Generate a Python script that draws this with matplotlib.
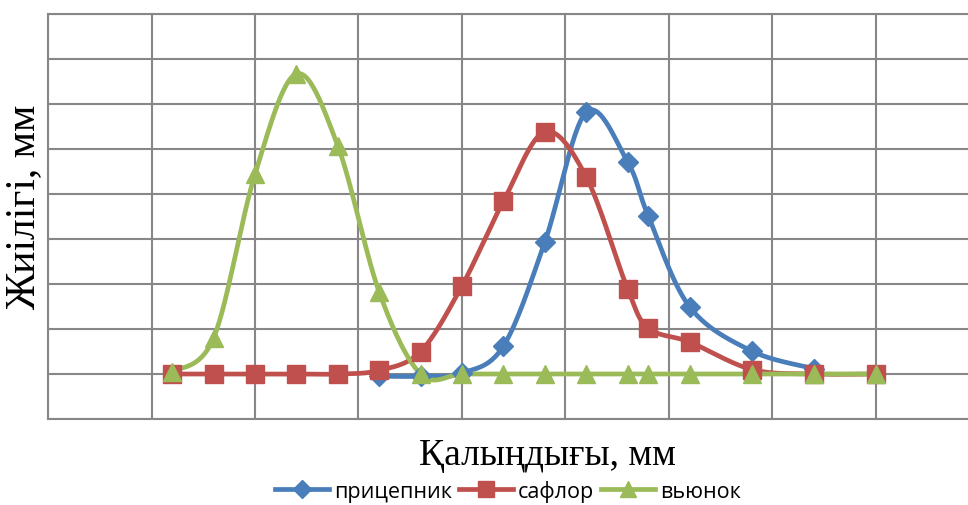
import matplotlib.pyplot as plt
import numpy as np
from matplotlib.lines import Line2D

# thickness positions (grid units, no tick labels in the original)
x_all = [1.2, 1.6, 2.0, 2.4, 2.8, 3.2, 3.6, 4.0, 4.4, 4.8, 5.2, 5.6, 5.8, 6.2, 6.8, 7.4, 8.0]

x_pricep = [3.2, 3.6, 4.0, 4.4, 4.8, 5.2, 5.6, 5.8, 6.2, 6.8, 7.4]
y_pricep = [-0.05, -0.05, 0.02, 0.62, 2.93, 5.82, 4.71, 3.51, 1.49, 0.51, 0.12]

y_saflor = [0, 0, 0, 0, 0, 0.08, 0.5, 1.96, 3.84, 5.38, 4.38, 1.89, 1.02, 0.71, 0.1, 0, 0]

y_vyunok = [0.05, 0.8, 4.44, 6.67, 5.07, 1.82, 0, 0, 0, 0, 0, 0, 0, 0, 0, 0, 0]

names = ["прицепник", "сафлор", "вьюнок"]
colors = ["#4A7EBB", "#C0504D", "#9BBB59"]
markers = ["D", "s", "^"]
msizes = [10, 12.5, 13]


def smooth(xs, ys, n=30):
    # catmull-rom style bezier, similar to the office "smoothed line"
    xs = np.asarray(xs, float)
    ys = np.asarray(ys, float)
    px = np.concatenate([[xs[0]], xs, [xs[-1]]])
    py = np.concatenate([[ys[0]], ys, [ys[-1]]])
    outx, outy = [], []
    t = np.linspace(0, 1, n)
    for i in range(1, len(px) - 2):
        p0 = np.array([px[i], py[i]])
        p3 = np.array([px[i + 1], py[i + 1]])
        c1 = p0 + (np.array([px[i + 1], py[i + 1]]) - np.array([px[i - 1], py[i - 1]])) / 6
        c2 = p3 - (np.array([px[i + 2], py[i + 2]]) - np.array([px[i], py[i]])) / 6
        b = ((1 - t) ** 3)[:, None] * p0 + (3 * (1 - t) ** 2 * t)[:, None] * c1 \
            + (3 * (1 - t) * t ** 2)[:, None] * c2 + (t ** 3)[:, None] * p3
        outx.extend(b[:, 0])
        outy.extend(b[:, 1])
    return outx, outy


fig = plt.figure(figsize=(9.68, 5.06), dpi=100)
ax = fig.add_axes([48 / 968, 86 / 506, 920 / 968, 405 / 506])

series = [(x_pricep, y_pricep), (x_all, y_saflor), (x_all, y_vyunok)]
for (xs, ys), c, m, ms in zip(series, colors, markers, msizes):
    sx, sy = smooth(xs, ys)
    ax.plot(sx, sy, color=c, lw=3.4, solid_capstyle='round', zorder=3)
    ax.plot(xs, ys, ls='none', marker=m, ms=ms, color=c, zorder=4)

ax.set_xlim(0, 920 / 103.5)
ax.set_ylim(-1, 8)
ax.set_xticks(range(0, 9))
ax.set_yticks(range(-1, 9))
ax.set_xticklabels([])
ax.set_yticklabels([])
ax.tick_params(length=0)
ax.grid(True, color="#878787", lw=1.5)
ax.set_axisbelow(True)
for s in ["left", "bottom", "top"]:
    ax.spines[s].set_color("#878787")
    ax.spines[s].set_linewidth(1.5)
ax.spines["right"].set_visible(False)

fig.text(24 / 968, 1 - 207 / 506, "Жиілігі, мм", rotation=90, ha='center', va='center',
         family="Liberation Serif", fontsize=30)
fig.text(547 / 968, 1 - 456 / 506, "Қалыңдығы, мм", ha='center', va='center',
         family="Liberation Serif", fontsize=27)

handles = [Line2D([], [], color=c, lw=3.4, marker=m, ms=ms * 0.9) for c, m, ms in zip(colors, markers, msizes)]
fig.legend(handles, names, loc='center', bbox_to_anchor=(508 / 968, 1 - 492 / 506), ncol=3,
           frameon=False, handlelength=2.5, handletextpad=0.25, columnspacing=0.3,
           prop={"family": "Open Sans", "size": 15.5})

fig.savefig("out.png", dpi=100)
